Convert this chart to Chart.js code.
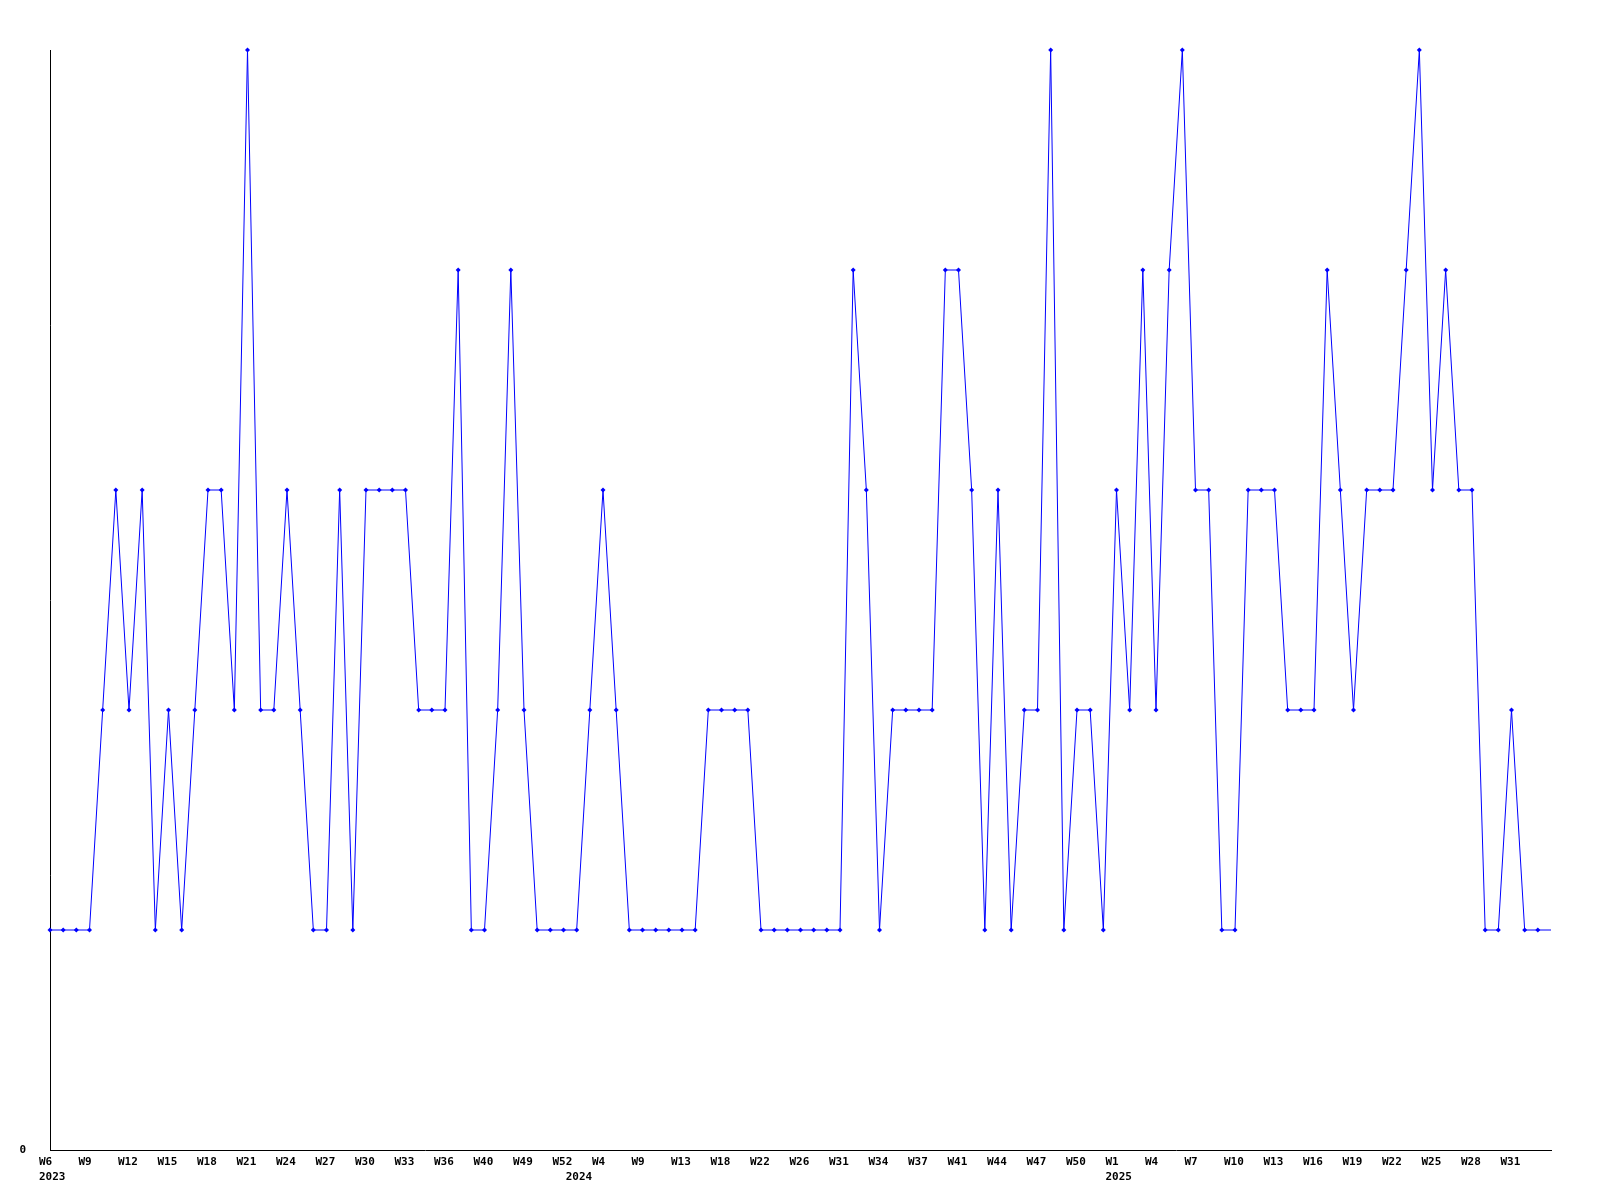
<!DOCTYPE html>
<html>
<head>
<meta charset="utf-8">
<script src="https://cdn.jsdelivr.net/npm/chart.js@4"></script>
<style>
  body { margin: 0; background: #fff; }
  canvas { display: block; }
</style>
</head>
<body>
<canvas id="myChart" width="1600" height="1200"></canvas>
<script>
const ctx = document.getElementById('myChart');

// weeks with data (gaps where a week had nothing)
const weeks = [
  '2023-W6','2023-W7','2023-W8','2023-W9','2023-W10','2023-W11','2023-W12','2023-W13','2023-W14','2023-W15',
  '2023-W16','2023-W17','2023-W18','2023-W19','2023-W20','2023-W21','2023-W22','2023-W23','2023-W24','2023-W25',
  '2023-W26','2023-W27','2023-W28','2023-W29','2023-W30','2023-W31','2023-W32','2023-W33','2023-W34','2023-W35',
  '2023-W36','2023-W37','2023-W39','2023-W40','2023-W41','2023-W48','2023-W49','2023-W50','2023-W51','2023-W52',
  '2024-W1','2024-W3','2024-W4','2024-W5','2024-W7','2024-W9','2024-W10','2024-W11','2024-W13','2024-W14',
  '2024-W16','2024-W18','2024-W19','2024-W21','2024-W22','2024-W23','2024-W24','2024-W26','2024-W28','2024-W29',
  '2024-W31','2024-W32','2024-W33','2024-W34','2024-W35','2024-W36','2024-W37','2024-W38','2024-W40','2024-W41',
  '2024-W42','2024-W43','2024-W44','2024-W45','2024-W46','2024-W47','2024-W48','2024-W49','2024-W50','2024-W51',
  '2024-W52','2025-W1','2025-W2','2025-W3','2025-W4','2025-W5','2025-W6','2025-W7','2025-W8','2025-W9',
  '2025-W10','2025-W11','2025-W12','2025-W13','2025-W14','2025-W15','2025-W16','2025-W17','2025-W18','2025-W19',
  '2025-W20','2025-W21','2025-W22','2025-W23','2025-W24','2025-W25','2025-W26','2025-W27','2025-W28','2025-W29',
  '2025-W30','2025-W31','2025-W32','2025-W33','2025-W34'
];

const counts = [
  1,1,1,1,2,3,2,3,1,2,
  1,2,3,3,2,5,2,2,3,2,
  1,1,3,1,3,3,3,3,2,2,
  2,4,1,1,2,4,2,1,1,1,
  1,2,3,2,1,1,1,1,1,1,
  2,2,2,2,1,1,1,1,1,1,
  1,4,3,1,2,2,2,2,4,4,
  3,1,3,1,2,2,5,1,2,2,
  1,3,2,4,2,4,5,3,3,1,
  1,3,3,3,2,2,2,4,3,2,
  3,3,3,4,5,3,4,3,3,1,
  1,2,1,1,1
];

const labelEvery = 3;

const yearOf = weeks.map(w => w.split('-')[0]);
const weekOf = weeks.map(w => w.split('-')[1]);

function tickLabel(i) {
  const firstOfYear = i === 0 || yearOf[i] !== yearOf[i - 1];
  // no week label on the very last point, it would run off the edge
  const showWeek = i % labelEvery === 0 && i < weeks.length - 1;
  if (!showWeek && !firstOfYear) return '';
  return [showWeek ? weekOf[i] : '', firstOfYear ? yearOf[i] : ''];
}

const tickFont = { family: "'DejaVu Sans Mono', monospace", size: 11, weight: 'bold', lineHeight: 1.35 };

new Chart(ctx, {
  type: 'line',
  data: {
    labels: weeks,
    datasets: [{
      data: counts,
      borderColor: '#0000ff',
      backgroundColor: '#0000ff',
      borderWidth: 1,
      tension: 0,
      pointStyle: 'rectRot',
      pointRadius: c => c.dataIndex === counts.length - 1 ? 0 : 2.5,
      pointBorderWidth: 0,
      clip: false
    }]
  },
  options: {
    responsive: false,
    animation: false,
    layout: { padding: { top: 50, right: 49, left: 0, bottom: 0 } },
    plugins: { legend: { display: false }, tooltip: { enabled: false } },
    scales: {
      x: {
        offset: false,
        grid: { display: false, drawTicks: false },
        border: { display: true, color: '#000', width: 1 },
        ticks: {
          autoSkip: false,
          maxRotation: 0,
          minRotation: 0,
          align: 'start',
          labelOffset: -11,
          padding: 5,
          color: '#000',
          font: tickFont,
          callback: (v, i) => tickLabel(i)
        },
        afterFit: s => { s.height = 50; }
      },
      y: {
        min: 0,
        max: 5,
        grid: { display: false, drawTicks: false },
        border: { display: true, color: '#000', width: 1 },
        ticks: {
          stepSize: 5,
          padding: 24,
          color: '#000',
          font: tickFont,
          callback: v => v === 0 ? '0' : ''
        },
        afterFit: s => { s.width = 50; }
      }
    }
  }
});
</script>
</body>
</html>
